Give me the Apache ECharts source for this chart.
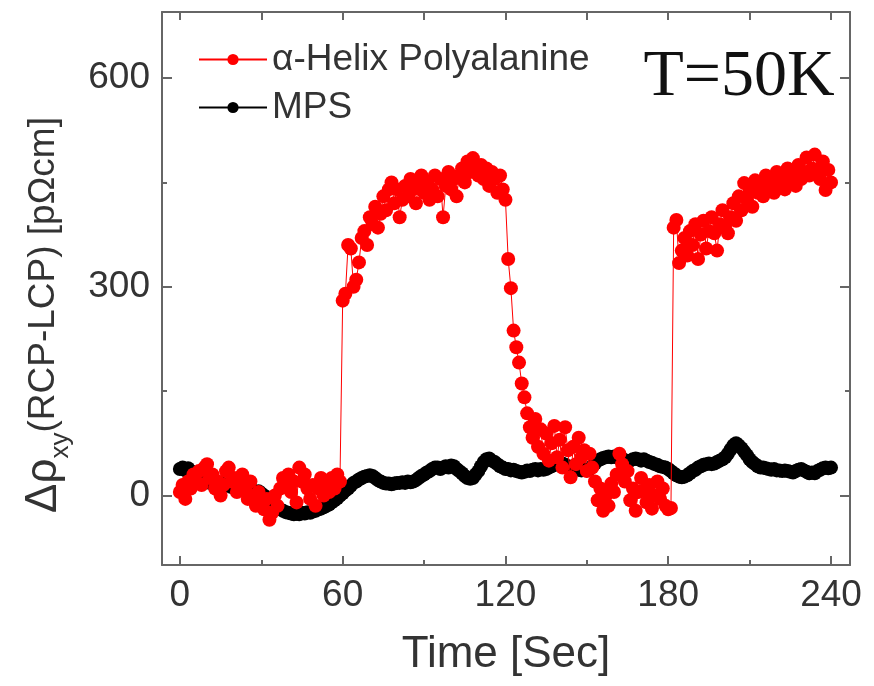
<!DOCTYPE html>
<html><head><meta charset="utf-8">
<script src="https://cdn.jsdelivr.net/npm/echarts@6/dist/echarts.min.js"></script>
<style>html,body{margin:0;padding:0;background:#fff}#c{width:874px;height:686px}</style>
</head><body><div id="c"></div>
<script>
const time = [
0,1,2,3,4,5,6,7,8,9,10,11,12,13,14,15,16,17,18,19,
20,21,22,23,24,25,26,27,28,29,30,31,32,33,34,35,36,37,38,39,
40,41,42,43,44,45,46,47,48,49,50,51,52,53,54,55,56,57,58,59,
60,61,62,63,64,65,66,67,68,69,70,71,72,73,74,75,76,77,78,79,
80,81,82,83,84,85,86,87,88,89,90,91,92,93,94,95,96,97,98,99,
100,101,102,103,104,105,106,107,108,109,110,111,112,113,114,115,116,117,118,119,
120,121,122,123,124,125,126,127,128,129,130,131,132,133,134,135,136,137,138,139,
140,141,142,143,144,145,146,147,148,149,150,151,152,153,154,155,156,157,158,159,
160,161,162,163,164,165,166,167,168,169,170,171,172,173,174,175,176,177,178,179,
180,181,182,183,184,185,186,187,188,189,190,191,192,193,194,195,196,197,198,199,
200,201,202,203,204,205,206,207,208,209,210,211,212,213,214,215,216,217,218,219,
220,221,222,223,224,225,226,227,228,229,230,231,232,233,234,235,236,237,238,239,
240];

const helix = [
5,15,-5,20,10,30,20,35,15,40,
45,25,30,10,20,0,15,35,40,20,
25,5,15,30,10,-5,20,0,-15,5,
-10,-20,-5,-35,-25,0,-15,10,25,15,
30,5,20,-10,40,20,30,10,-5,15,
-15,10,25,0,20,5,25,10,30,20,
280,290,360,355,300,310,335,370,380,360,
400,390,415,385,405,430,410,440,450,420,
440,400,425,445,430,455,440,420,445,460,
435,450,425,440,460,430,455,400,445,465,
440,455,430,460,470,450,480,465,485,470,
460,475,455,470,445,465,455,435,460,440,
425,340,298,237,213,191,161,141,118,98,
83,110,70,95,60,89,50,75,100,55,
80,40,98,65,26,70,45,83,55,65,
35,60,40,20,-7,10,-22,0,-15,17,
5,30,60,45,20,35,-7,10,-22,5,
25,7,-10,15,-19,0,20,-5,10,-15,
-20,-18,385,396,334,352,370,345,380,360,
390,340,375,395,355,380,400,377,352,390,
410,385,377,400,420,395,430,410,449,425,
440,415,453,435,445,430,460,440,450,435,
465,445,455,440,470,450,460,445,475,455,
465,486,460,470,490,468,455,480,439,468,
450];

const mps = [
38,40,36,39,35,32,30,28,25,22,
20,18,20,17,15,18,16,14,15,12,
13,10,12,9,10,8,10,7,5,6,
3,0,-3,-8,-12,-15,-18,-20,-22,-24,
-25,-26,-27,-26,-27,-25,-26,-24,-25,-23,
-22,-20,-19,-17,-15,-13,-10,-7,-4,0,
3,7,10,14,18,20,23,25,27,28,
29,28,25,22,20,18,17,17,16,17,
18,18,19,18,20,19,20,22,25,28,
30,33,35,38,40,40,38,40,42,40,
43,42,38,35,32,28,25,24,25,30,
35,42,48,52,53,50,48,45,42,40,
38,38,36,37,35,34,33,34,36,35,
37,38,36,38,37,38,40,42,44,45,
46,46,44,42,40,39,38,37,36,37,
36,38,42,46,50,52,54,55,56,55,
56,55,55,53,50,48,50,52,53,52,
50,52,50,48,47,45,44,42,41,40,
38,35,32,29,27,26,27,29,32,35,
37,40,42,44,45,46,45,46,48,50,
52,55,60,66,72,75,72,68,63,58,
52,48,45,42,40,40,39,38,37,38,
36,36,35,36,35,34,33,35,37,38,
36,34,32,33,32,35,37,39,40,39,
40];

const xTicks = [0, 60, 120, 180, 240];
const xMinor = [30, 90, 150, 210];
const yTicks = [0, 300, 600];
const yMinor = [150, 450];
const seriesNames = ['α-Helix Polyalanine', 'MPS'];

const FONT = 'Liberation Sans, Arial, Helvetica, sans-serif';
const AX = '#666666';
const TXT = '#333333';
const X_MIN = -6.6, X_MAX = 247, Y_MIN = -100, Y_MAX = 695;

const chart = echarts.init(document.getElementById('c'), null, {renderer: 'canvas'});

function xAx(pos, ticks, len, showLine, showLabel, extra) {
  return Object.assign({
    type: 'value', position: pos, min: X_MIN, max: X_MAX,
    axisLine: {show: showLine, onZero: false, lineStyle: {color: AX, width: 2}},
    axisTick: {show: true, inside: true, length: len, customValues: ticks, lineStyle: {color: AX, width: 2}},
    axisLabel: {show: showLabel, customValues: ticks, fontSize: 37, color: TXT, fontFamily: FONT, margin: 12},
    splitLine: {show: false}
  }, extra || {});
}
function yAx(pos, ticks, len, showLine, showLabel) {
  return {
    type: 'value', position: pos, min: Y_MIN, max: Y_MAX,
    axisLine: {show: showLine, onZero: false, lineStyle: {color: AX, width: 2}},
    axisTick: {show: true, inside: true, length: len, customValues: ticks, lineStyle: {color: AX, width: 2}},
    axisLabel: {show: showLabel, customValues: ticks, fontSize: 37, color: TXT, fontFamily: FONT, margin: 12},
    splitLine: {show: false}
  };
}

const option = {
  animation: false,
  backgroundColor: '#ffffff',
  grid: {left: 162, right: 24, top: 12, bottom: 121, containLabel: false},
  xAxis: [
    xAx('bottom', xTicks, 9, true, true, {
      name: 'Time [Sec]', nameLocation: 'middle', nameGap: 90,
      nameTextStyle: {fontSize: 44, color: TXT, fontFamily: FONT, verticalAlign: 'middle'}
    }),
    xAx('bottom', xMinor, 5, false, false),
    xAx('top', xTicks.concat(xMinor), 8, true, false)
  ],
  yAxis: [
    yAx('left', yTicks, 10, true, true),
    yAx('left', yMinor, 5, false, false),
    yAx('right', yTicks, 10, true, false),
    yAx('right', yMinor, 5, false, false)
  ],
  legend: {
    orient: 'vertical', left: 193, top: 36, itemWidth: 68, itemHeight: 14, itemGap: 11,
    data: seriesNames,
    textStyle: {fontSize: 37, color: TXT, fontFamily: FONT}
  },
  series: [
    {
      name: seriesNames[1], type: 'line', xAxisIndex: 0, yAxisIndex: 0, z: 2,
      data: time.map((t, i) => [t, mps[i]]),
      symbol: 'circle', symbolSize: 14, showSymbol: true,
      itemStyle: {color: '#000000'},
      lineStyle: {color: '#000000', width: 1}
    },
    {
      name: seriesNames[0], type: 'line', xAxisIndex: 0, yAxisIndex: 0, z: 3,
      data: time.map((t, i) => [t, helix[i]]),
      symbol: 'circle', symbolSize: 14, showSymbol: true,
      itemStyle: {color: '#ff0000'},
      lineStyle: {color: '#ff0000', width: 1}
    }
  ],
  graphic: [
    {
      type: 'text', x: 739, y: 78,
      style: {text: 'T=50K', font: '66px "Liberation Serif", "Times New Roman", serif',
        fill: '#111111', align: 'center', verticalAlign: 'middle'}
    },
    {
      type: 'text', x: 44, y: 315, rotation: Math.PI / 2,
      style: {
        text: '{a|Δρ}{s|xy}{b|(RCP-LCP) [pΩcm]}',
        align: 'center', verticalAlign: 'middle',
        rich: {
          a: {fontSize: 44, fontFamily: FONT, fill: TXT, lineHeight: 60, verticalAlign: 'middle'},
          s: {fontSize: 26, fontFamily: FONT, fill: TXT, lineHeight: 24, verticalAlign: 'bottom'},
          b: {fontSize: 37, fontFamily: FONT, fill: TXT, lineHeight: 60, verticalAlign: 'middle'}
        }
      }
    }
  ]
};
chart.setOption(option);
</script>
</body></html>
